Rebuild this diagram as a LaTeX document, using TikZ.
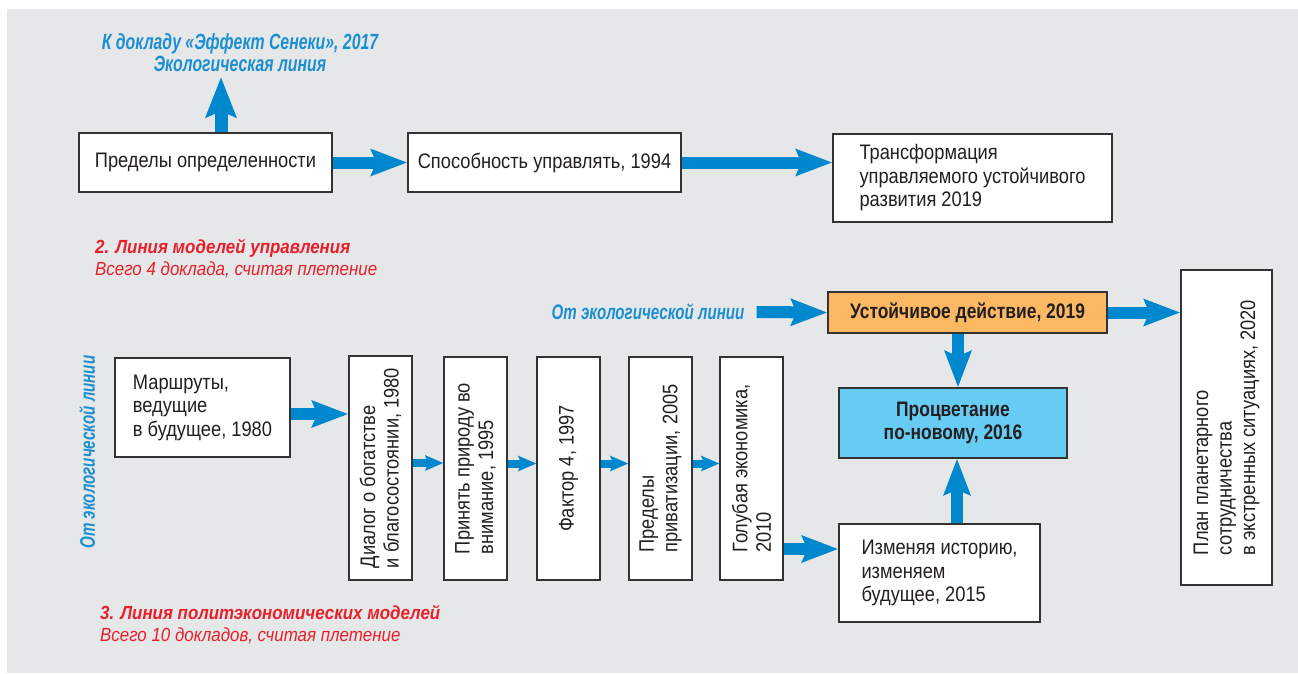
\documentclass[tikz,border=0pt]{standalone}
\usepackage{fontspec}
\setmainfont{Liberation Sans}
\newfontfamily\cf[FakeStretch=0.87]{Liberation Sans}
\newfontfamily\cfb[FakeStretch=0.83]{Liberation Sans}
\newfontfamily\cfh[FakeStretch=0.72]{Liberation Sans}
\newfontfamily\cfr[FakeStretch=0.89]{Liberation Sans}
\usetikzlibrary{arrows.meta}
\definecolor{bg}{HTML}{E6E7E9}
\definecolor{arrowblue}{HTML}{0088CE}
\definecolor{txtblue}{HTML}{1B8FD2}
\definecolor{redtxt}{HTML}{E8202A}
\definecolor{orangefill}{HTML}{FDB863}
\definecolor{lightblue}{HTML}{66CCF4}
\definecolor{border}{HTML}{333333}
\definecolor{ink}{HTML}{231F20}
\tikzset{
  box/.style={draw=border, line width=1.3pt, fill=white, inner sep=0pt, align=left,
    text=ink, font=\cf\fontsize{21}{23.5}\selectfont},
  vbox/.style={box, rotate=90},
  boldbox/.style={box, font=\cfb\bfseries\fontsize{21}{23.5}\selectfont, align=center},
  bigarrow/.style={draw=arrowblue, line width=12pt, -{Stealth[length=36pt,width=26pt,inset=5pt]}},
  uparrow/.style={draw=arrowblue, line width=13pt, -{Stealth[length=40pt,width=30pt,inset=6pt]}},
  smallarrow/.style={draw=arrowblue, line width=8pt, -{Stealth[length=18pt,width=15pt,inset=3pt]}},
  bluehead/.style={text=txtblue, font=\cfh\bfseries\itshape\fontsize{21}{21}\selectfont, inner sep=0pt},
  redhead/.style={text=redtxt, font=\cfr\fontsize{19}{22}\selectfont, align=left, inner sep=0pt, anchor=west},
}
\begin{document}
\begin{tikzpicture}[x=1pt,y=-1pt]
\useasboundingbox (0,0) rectangle (1298,673);
\fill[white] (0,0) rectangle (1298,673);
\fill[bg] (7,9) rectangle (1298,673);

% line 2 boxes
\node[box, minimum width=253, minimum height=59] (A) at (205.5,162.5) {Пределы определенности};
\node[box, minimum width=273, minimum height=59] (B) at (544.5,162.5) {Способность управлять, 1994};
\node[box, minimum width=279, minimum height=88] (C) at (972.5,178) {Трансформация\\управляемого устойчивого\\развития 2019};

\node[bluehead, align=center, font=\cfh\bfseries\itshape\fontsize{22}{21.5}\selectfont] (sen) at (240,52.5) {К докладу «Эффект Сенеки», 2017\\Экологическая линия};
\coordinate (senarrow) at (221,77);

\node[redhead] (h2) at (95,259) {{\bfseries\itshape 2. Линия моделей управления}\\{\itshape Всего 4 доклада, считая плетение}};

% line 3
\node[bluehead] (ecoR) at (648,312) {От экологической линии};
\node[bluehead, rotate=90] (ecoV) at (87,452) {От экологической линии};

\node[boldbox, fill=orangefill, minimum width=279, minimum height=41] (D) at (967.5,312.5) {Устойчивое действие, 2019};
\node[boldbox, fill=lightblue, minimum width=228, minimum height=70] (E) at (953,423) {Процветание\\по-новому, 2016};
\node[box, minimum width=201, minimum height=98] (F) at (939.5,573) {Изменяя историю,\\изменяем\\будущее, 2015};
\node[vbox, minimum width=315, minimum height=91] (G) at (1226.5,427.5) {План планетарного\\сотрудничества\\в экстренных ситуациях, 2020};

\node[box, minimum width=175, minimum height=99] (H) at (202.5,407.5) {Маршруты,\\ведущие\\в будущее, 1980};
\node[vbox, minimum width=224, minimum height=63] (V1) at (380.5,468) {Диалог о богатстве\\и благосостоянии, 1980};
\node[vbox, minimum width=223, minimum height=63] (V2) at (475.5,468.5) {Принять природу во\\внимание, 1995};
\node[vbox, minimum width=223, minimum height=63] (V3) at (568.5,468.5) {Фактор 4, 1997};
\node[vbox, minimum width=223, minimum height=63] (V4) at (660.5,468.5) {Пределы\\приватизации, 2005};
\node[vbox, minimum width=223, minimum height=63] (V5) at (751.5,468.5) {Голубая экономика,\\2010};

\node[redhead] (h3) at (100,625) {{\bfseries\itshape 3. Линия политэкономических моделей}\\{\itshape Всего 10 докладов, считая плетение}};

% arrows
\draw[uparrow] ([xshift=15.5pt]A.north) -- (senarrow);
\draw[bigarrow] (A.east) -- (B.west);
\draw[bigarrow] (B.east) -- (B.east -| C.west);
\draw[bigarrow] ([xshift=12pt]ecoR.east) -- (D.west);
\draw[bigarrow] (D.east) -- (D.east -| G.north);
\draw[bigarrow] ([xshift=-9.5pt]D.south) -- ([xshift=-9.5pt]D.south |- E.north);
\draw[bigarrow] ([xshift=17.5pt]F.north) -- ([xshift=17.5pt]F.north |- E.south);
\draw[bigarrow] ([yshift=-6.5pt]H.east) -- ([yshift=-6.5pt]H.east -| V1.north);
\draw[smallarrow] ([yshift=5pt]V1.south) -- ([yshift=5pt]V1.south -| V2.north);
\draw[smallarrow] ([yshift=5pt]V2.south) -- ([yshift=5pt]V2.south -| V3.north);
\draw[smallarrow] ([yshift=5pt]V3.south) -- ([yshift=5pt]V3.south -| V4.north);
\draw[smallarrow] ([yshift=5pt]V4.south) -- ([yshift=5pt]V4.south -| V5.north);
\draw[bigarrow] ([yshift=-80.5pt]V5.south) -- ([yshift=-80.5pt]V5.south -| F.west);
\end{tikzpicture}
\end{document}
